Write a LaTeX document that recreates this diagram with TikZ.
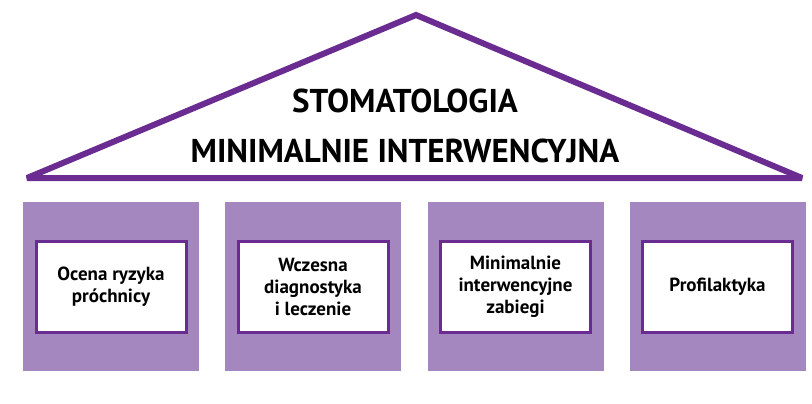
\documentclass[tikz,border=0pt]{standalone}
\usepackage{fontspec}
\setmainfont{PT Sans}
\definecolor{roofviolet}{HTML}{6B2C91}
\definecolor{pillarlilac}{HTML}{A487BE}
\tikzset{pillar/.style={fill=pillarlilac,minimum width=176pt,minimum height=169pt,inner sep=0pt},
         plaque/.style={draw=roofviolet,line width=3pt,fill=white,minimum width=150pt,minimum height=91pt,
                        align=center,font=\fontsize{19}{22}\selectfont\bfseries,inner sep=0pt}}

\begin{document}
\begin{tikzpicture}[x=1pt,y=-1pt]
        \useasboundingbox (0,0) rectangle (812,404);
        \coordinate (eaveL) at (27,178);
        \coordinate (apex) at (416,15);
        \coordinate (eaveR) at (802,178);
        \draw[roofviolet,line width=6pt,line join=miter,miter limit=3] (eaveL) -- (apex) -- (eaveR) -- cycle;
        \node[font=\fontsize{33}{50}\selectfont\bfseries,align=center] (title) at (405,126) {STOMATOLOGIA\\MINIMALNIE INTERWENCYJNA};
        \node[pillar] (p1) at (111,286.5) {};
        \node[pillar] (p2) at (313,286.5) {};
        \node[pillar] (p3) at (515.5,286.5) {};
        \node[pillar] (p4) at (717.5,286.5) {};
        \node[plaque] (b1) at (p1) {Ocena ryzyka\\próchnicy};
        \node[plaque] (b2) at (p2) {Wczesna\\diagnostyka\\i leczenie};
        \node[plaque] (b3) at (p3) {Minimalnie\\interwencyjne\\zabiegi};
        \node[plaque] (b4) at (p4) {Profilaktyka};
\end{tikzpicture}
\end{document}
